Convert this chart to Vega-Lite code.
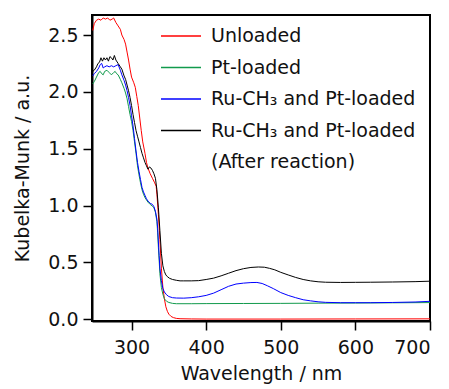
{
  "$schema": "https://vega.github.io/schema/vega-lite/v6.json",
  "width": 338,
  "height": 306,
  "autosize": {"type": "none"},
  "padding": {"left": 92, "top": 15, "right": 19, "bottom": 68},
  "background": "white",
  "config": {
    "font": "DejaVu Sans",
    "view": {"stroke": "black", "strokeWidth": 2},
    "axis": {
      "grid": false,
      "domainColor": "black",
      "domainWidth": 2,
      "tickColor": "black",
      "tickWidth": 1.5,
      "tickSize": 9,
      "labelFont": "DejaVu Sans",
      "labelFontSize": 19,
      "labelColor": "#111",
      "titleFont": "DejaVu Sans",
      "titleFontSize": 19,
      "titleFontWeight": "normal",
      "titleColor": "#111"
    },
    "legend": {
      "labelFont": "DejaVu Sans",
      "labelFontSize": 19,
      "labelColor": "#111"
    }
  },
  "data": {
    "values": [
      {"s":"U","w":248,"v":2.54},{"s":"U","w":250,"v":2.60},{"s":"U","w":253,"v":2.63},{"s":"U","w":256,"v":2.64},{"s":"U","w":259,"v":2.63},{"s":"U","w":262,"v":2.65},{"s":"U","w":265,"v":2.64},{"s":"U","w":268,"v":2.65},{"s":"U","w":271,"v":2.63},{"s":"U","w":274,"v":2.64},{"s":"U","w":276,"v":2.65},{"s":"U","w":279,"v":2.61},{"s":"U","w":282,"v":2.58},{"s":"U","w":285,"v":2.55},{"s":"U","w":287,"v":2.50},{"s":"U","w":290,"v":2.46},{"s":"U","w":292,"v":2.42},{"s":"U","w":294,"v":2.35},{"s":"U","w":296,"v":2.28},{"s":"U","w":298,"v":2.20},{"s":"U","w":300,"v":2.13},{"s":"U","w":303,"v":2.08},{"s":"U","w":305,"v":2.04},{"s":"U","w":307,"v":1.96},{"s":"U","w":309,"v":1.88},{"s":"U","w":311,"v":1.77},{"s":"U","w":313,"v":1.66},{"s":"U","w":315,"v":1.56},{"s":"U","w":318,"v":1.46},{"s":"U","w":320,"v":1.38},{"s":"U","w":322,"v":1.33},{"s":"U","w":325,"v":1.28},{"s":"U","w":328,"v":1.24},{"s":"U","w":331,"v":1.20},{"s":"U","w":333,"v":1.17},{"s":"U","w":334,"v":1.10},{"s":"U","w":336,"v":0.92},{"s":"U","w":338,"v":0.70},{"s":"U","w":340,"v":0.45},{"s":"U","w":342,"v":0.28},{"s":"U","w":344,"v":0.18},{"s":"U","w":346,"v":0.11},{"s":"U","w":348,"v":0.07},{"s":"U","w":350,"v":0.045},{"s":"U","w":353,"v":0.025},{"s":"U","w":356,"v":0.015},{"s":"U","w":360,"v":0.008},{"s":"U","w":365,"v":0.005},{"s":"U","w":380,"v":0.003},{"s":"U","w":400,"v":0.002},{"s":"U","w":500,"v":0.002},{"s":"U","w":600,"v":0.003},{"s":"U","w":700,"v":0.004},

      {"s":"P","w":248,"v":2.07},{"s":"P","w":250,"v":2.09},{"s":"P","w":253,"v":2.13},{"s":"P","w":256,"v":2.17},{"s":"P","w":258,"v":2.18},{"s":"P","w":260,"v":2.16},{"s":"P","w":262,"v":2.15},{"s":"P","w":264,"v":2.18},{"s":"P","w":267,"v":2.19},{"s":"P","w":270,"v":2.17},{"s":"P","w":273,"v":2.15},{"s":"P","w":276,"v":2.17},{"s":"P","w":278,"v":2.18},{"s":"P","w":280,"v":2.16},{"s":"P","w":282,"v":2.15},{"s":"P","w":285,"v":2.11},{"s":"P","w":287,"v":2.08},{"s":"P","w":290,"v":2.03},{"s":"P","w":292,"v":1.99},{"s":"P","w":294,"v":1.94},{"s":"P","w":296,"v":1.87},{"s":"P","w":298,"v":1.80},{"s":"P","w":300,"v":1.74},{"s":"P","w":302,"v":1.66},{"s":"P","w":304,"v":1.56},{"s":"P","w":306,"v":1.46},{"s":"P","w":308,"v":1.35},{"s":"P","w":310,"v":1.27},{"s":"P","w":312,"v":1.20},{"s":"P","w":314,"v":1.14},{"s":"P","w":316,"v":1.10},{"s":"P","w":318,"v":1.07},{"s":"P","w":320,"v":1.05},{"s":"P","w":322,"v":1.03},{"s":"P","w":325,"v":1.01},{"s":"P","w":328,"v":0.995},{"s":"P","w":330,"v":0.98},{"s":"P","w":332,"v":0.94},{"s":"P","w":334,"v":0.86},{"s":"P","w":335,"v":0.76},{"s":"P","w":336,"v":0.63},{"s":"P","w":337,"v":0.52},{"s":"P","w":338,"v":0.40},{"s":"P","w":340,"v":0.28},{"s":"P","w":342,"v":0.22},{"s":"P","w":344,"v":0.18},{"s":"P","w":347,"v":0.158},{"s":"P","w":350,"v":0.148},{"s":"P","w":355,"v":0.14},{"s":"P","w":360,"v":0.137},{"s":"P","w":380,"v":0.137},{"s":"P","w":400,"v":0.138},{"s":"P","w":450,"v":0.139},{"s":"P","w":500,"v":0.14},{"s":"P","w":550,"v":0.142},{"s":"P","w":600,"v":0.143},{"s":"P","w":650,"v":0.145},{"s":"P","w":700,"v":0.147},

      {"s":"R","w":248,"v":2.14},{"s":"R","w":250,"v":2.16},{"s":"R","w":253,"v":2.18},{"s":"R","w":256,"v":2.21},{"s":"R","w":258,"v":2.24},{"s":"R","w":260,"v":2.25},{"s":"R","w":262,"v":2.21},{"s":"R","w":264,"v":2.22},{"s":"R","w":267,"v":2.23},{"s":"R","w":270,"v":2.22},{"s":"R","w":273,"v":2.23},{"s":"R","w":276,"v":2.22},{"s":"R","w":279,"v":2.23},{"s":"R","w":282,"v":2.24},{"s":"R","w":285,"v":2.19},{"s":"R","w":287,"v":2.15},{"s":"R","w":290,"v":2.10},{"s":"R","w":292,"v":2.06},{"s":"R","w":294,"v":2.01},{"s":"R","w":296,"v":1.95},{"s":"R","w":298,"v":1.88},{"s":"R","w":300,"v":1.79},{"s":"R","w":302,"v":1.70},{"s":"R","w":304,"v":1.59},{"s":"R","w":306,"v":1.48},{"s":"R","w":308,"v":1.38},{"s":"R","w":310,"v":1.30},{"s":"R","w":312,"v":1.23},{"s":"R","w":314,"v":1.16},{"s":"R","w":316,"v":1.12},{"s":"R","w":318,"v":1.09},{"s":"R","w":320,"v":1.06},{"s":"R","w":322,"v":1.04},{"s":"R","w":325,"v":1.02},{"s":"R","w":328,"v":1.01},{"s":"R","w":330,"v":0.99},{"s":"R","w":332,"v":0.95},{"s":"R","w":334,"v":0.88},{"s":"R","w":335,"v":0.80},{"s":"R","w":336,"v":0.68},{"s":"R","w":337,"v":0.56},{"s":"R","w":338,"v":0.45},{"s":"R","w":340,"v":0.34},{"s":"R","w":342,"v":0.27},{"s":"R","w":344,"v":0.24},{"s":"R","w":347,"v":0.215},{"s":"R","w":350,"v":0.20},{"s":"R","w":355,"v":0.19},{"s":"R","w":360,"v":0.187},{"s":"R","w":370,"v":0.186},{"s":"R","w":380,"v":0.19},{"s":"R","w":390,"v":0.198},{"s":"R","w":400,"v":0.21},{"s":"R","w":410,"v":0.23},{"s":"R","w":420,"v":0.26},{"s":"R","w":430,"v":0.29},{"s":"R","w":440,"v":0.31},{"s":"R","w":450,"v":0.318},{"s":"R","w":460,"v":0.323},{"s":"R","w":468,"v":0.324},{"s":"R","w":475,"v":0.315},{"s":"R","w":482,"v":0.295},{"s":"R","w":490,"v":0.27},{"s":"R","w":500,"v":0.235},{"s":"R","w":510,"v":0.21},{"s":"R","w":520,"v":0.19},{"s":"R","w":530,"v":0.172},{"s":"R","w":540,"v":0.162},{"s":"R","w":550,"v":0.154},{"s":"R","w":560,"v":0.149},{"s":"R","w":580,"v":0.146},{"s":"R","w":600,"v":0.146},{"s":"R","w":620,"v":0.146},{"s":"R","w":650,"v":0.148},{"s":"R","w":680,"v":0.152},{"s":"R","w":700,"v":0.158},

      {"s":"A","w":248,"v":2.18},{"s":"A","w":250,"v":2.19},{"s":"A","w":253,"v":2.22},{"s":"A","w":255,"v":2.25},{"s":"A","w":257,"v":2.26},{"s":"A","w":259,"v":2.30},{"s":"A","w":261,"v":2.27},{"s":"A","w":263,"v":2.30},{"s":"A","w":265,"v":2.28},{"s":"A","w":267,"v":2.30},{"s":"A","w":269,"v":2.27},{"s":"A","w":271,"v":2.31},{"s":"A","w":273,"v":2.30},{"s":"A","w":275,"v":2.28},{"s":"A","w":277,"v":2.32},{"s":"A","w":279,"v":2.28},{"s":"A","w":282,"v":2.25},{"s":"A","w":285,"v":2.22},{"s":"A","w":287,"v":2.20},{"s":"A","w":290,"v":2.14},{"s":"A","w":292,"v":2.11},{"s":"A","w":294,"v":2.06},{"s":"A","w":296,"v":2.01},{"s":"A","w":298,"v":1.95},{"s":"A","w":300,"v":1.88},{"s":"A","w":302,"v":1.80},{"s":"A","w":304,"v":1.73},{"s":"A","w":306,"v":1.66},{"s":"A","w":308,"v":1.61},{"s":"A","w":310,"v":1.56},{"s":"A","w":312,"v":1.51},{"s":"A","w":314,"v":1.46},{"s":"A","w":316,"v":1.42},{"s":"A","w":318,"v":1.38},{"s":"A","w":320,"v":1.35},{"s":"A","w":322,"v":1.32},{"s":"A","w":324,"v":1.34},{"s":"A","w":326,"v":1.33},{"s":"A","w":328,"v":1.31},{"s":"A","w":330,"v":1.28},{"s":"A","w":332,"v":1.24},{"s":"A","w":334,"v":1.14},{"s":"A","w":336,"v":0.98},{"s":"A","w":338,"v":0.78},{"s":"A","w":340,"v":0.58},{"s":"A","w":342,"v":0.47},{"s":"A","w":344,"v":0.42},{"s":"A","w":346,"v":0.39},{"s":"A","w":348,"v":0.375},{"s":"A","w":351,"v":0.36},{"s":"A","w":355,"v":0.35},{"s":"A","w":360,"v":0.343},{"s":"A","w":365,"v":0.338},{"s":"A","w":370,"v":0.338},{"s":"A","w":380,"v":0.338},{"s":"A","w":390,"v":0.34},{"s":"A","w":400,"v":0.35},{"s":"A","w":410,"v":0.362},{"s":"A","w":420,"v":0.382},{"s":"A","w":430,"v":0.405},{"s":"A","w":440,"v":0.428},{"s":"A","w":450,"v":0.445},{"s":"A","w":460,"v":0.456},{"s":"A","w":470,"v":0.46},{"s":"A","w":478,"v":0.458},{"s":"A","w":485,"v":0.448},{"s":"A","w":492,"v":0.435},{"s":"A","w":500,"v":0.413},{"s":"A","w":510,"v":0.39},{"s":"A","w":520,"v":0.368},{"s":"A","w":530,"v":0.35},{"s":"A","w":540,"v":0.338},{"s":"A","w":550,"v":0.33},{"s":"A","w":560,"v":0.326},{"s":"A","w":580,"v":0.324},{"s":"A","w":600,"v":0.325},{"s":"A","w":620,"v":0.326},{"s":"A","w":650,"v":0.328},{"s":"A","w":680,"v":0.331},{"s":"A","w":700,"v":0.335}
    ]
  },
  "mark": {"type": "line", "strokeWidth": 1, "clip": true},
  "encoding": {
    "x": {
      "field": "w", "type": "quantitative",
      "scale": {"domain": [247, 700], "nice": false, "zero": false},
      "axis": {"values": [300, 400, 500, 600, 700], "title": "Wavelength / nm", "labelPadding": 8, "titlePadding": 7}
    },
    "y": {
      "field": "v", "type": "quantitative",
      "scale": {"domain": [-0.015, 2.676], "nice": false, "zero": false},
      "axis": {"values": [0, 0.5, 1, 1.5, 2, 2.5], "format": ".1f", "title": "Kubelka-Munk / a.u.", "labelPadding": 5, "titlePadding": 15}
    },
    "color": {
      "field": "s", "type": "nominal",
      "scale": {"domain": ["U", "P", "R", "A", "X"], "range": ["#ff0000", "#119a4c", "#0000ff", "#000000", "transparent"]},
      "legend": {
        "orient": "none",
        "legendX": 68,
        "legendY": 11,
        "title": null,
        "padding": 0,
        "symbolType": "stroke",
        "symbolSize": 1600,
        "symbolStrokeWidth": 1.5,
        "clipHeight": 20,
        "labelOffset": 9,
        "labelLimit": 320,
        "rowPadding": 11.5,
        "labelExpr": "datum.value == 'U' ? 'Unloaded' : datum.value == 'P' ? 'Pt-loaded' : datum.value == 'X' ? '(After reaction)' : 'Ru-CH₃ and Pt-loaded'"
      }
    }
  }
}
